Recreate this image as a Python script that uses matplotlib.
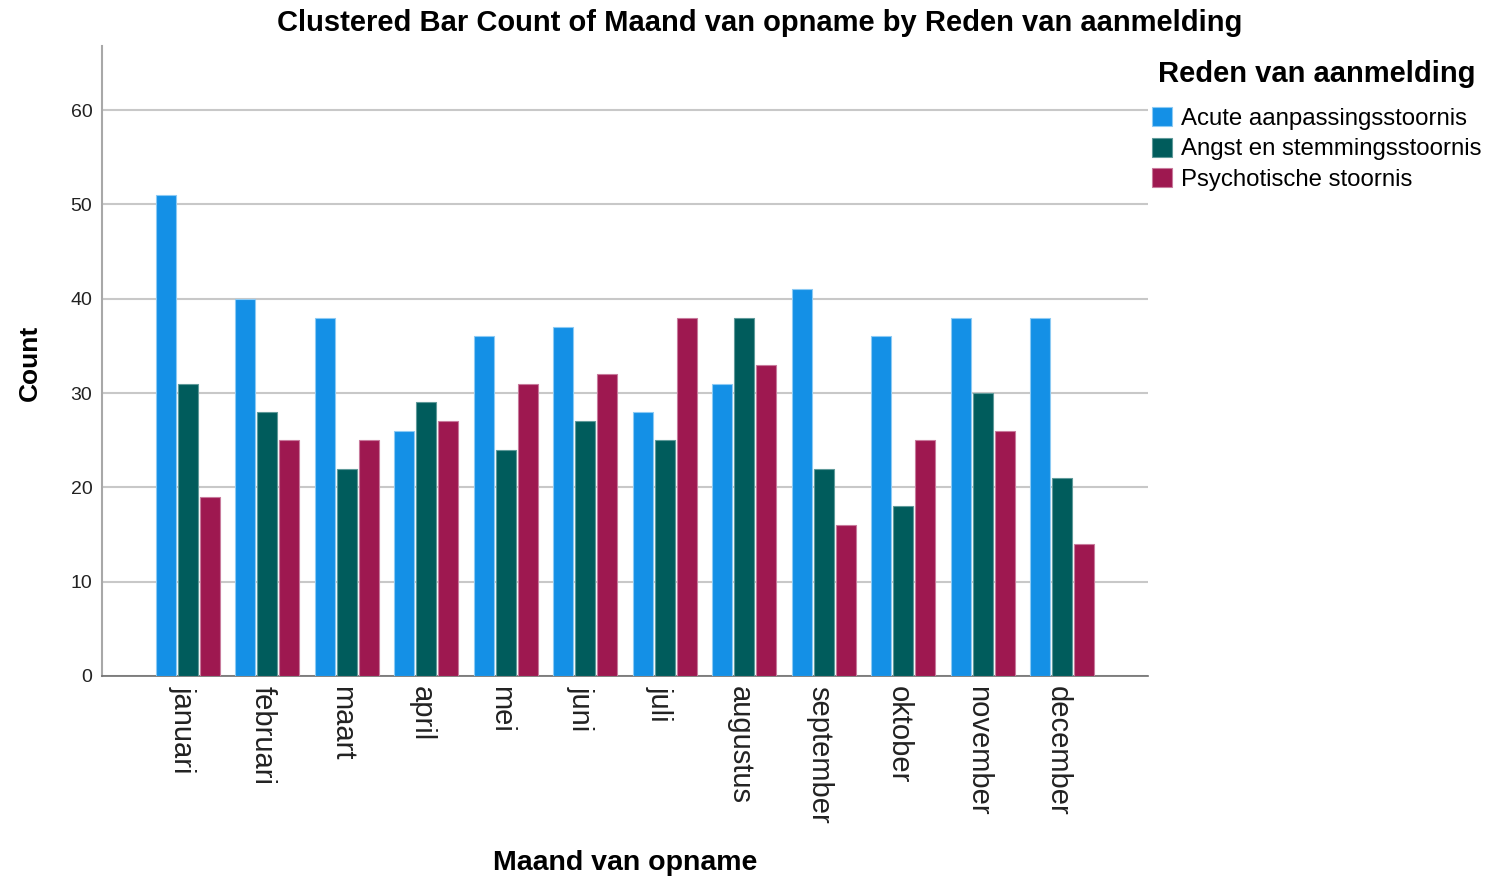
import numpy as np
import matplotlib.pyplot as plt

plt.rcParams['font.family'] = ['Liberation Sans', 'DejaVu Sans']

# data
months = ['januari', 'februari', 'maart', 'april', 'mei', 'juni', 'juli',
          'augustus', 'september', 'oktober', 'november', 'december']
series = ['Acute aanpassingsstoornis', 'Angst en stemmingsstoornis',
          'Psychotische stoornis']
acute = [51, 40, 38, 26, 36, 37, 28, 31, 41, 36, 38, 38]
angst = [31, 28, 22, 29, 24, 27, 25, 38, 22, 18, 30, 21]
psych = [19, 25, 25, 27, 31, 32, 38, 33, 16, 25, 26, 14]

colors = ['#1490e6', '#005c5c', '#9e1850']
edges = ['#8ccaf4', '#5f9a9a', '#c87a9c']

W, H = 1488, 881
fig = plt.figure(figsize=(W / 100, H / 100), dpi=100)
ax = fig.add_axes([102 / W, 1 - 676 / H, (1148 - 102) / W, (676 - 46) / H])

x = np.arange(len(months))
bw = 0.252
step = 0.277
bars = []
for k, vals in enumerate([acute, angst, psych]):
    b = ax.bar(x + (k - 1) * step, vals, width=bw, color=colors[k],
               edgecolor=edges[k], linewidth=0.8, label=series[k], zorder=3)
    bars.append(b)

ax.set_xlim(-1.08, len(months) - 1 + 1.08)
ax.set_ylim(0, 66.8)
ax.set_yticks([0, 10, 20, 30, 40, 50, 60])
ax.set_xticks(x - 0.06)
ax.set_xticklabels(months, rotation=-90, fontsize=21, color='#222222')
ax.tick_params(axis='x', length=0, pad=7)
ax.tick_params(axis='y', length=0, pad=7, labelsize=14, labelcolor='#222222')
for lab in ax.get_xticklabels():
    lab.set_verticalalignment('top')
    lab.set_horizontalalignment('center')

ax.yaxis.grid(True, color='#c8c8c8', linewidth=1.5, zorder=0)
ax.set_axisbelow(True)
for s in ['top', 'right']:
    ax.spines[s].set_visible(False)
ax.spines['left'].set_color('#a8a8a8')
ax.spines['left'].set_linewidth(1.5)
ax.spines['bottom'].set_color('#6e6e6e')
ax.spines['bottom'].set_linewidth(1.2)

fig.text(760 / W, 1 - 23 / H,
         'Clustered Bar Count of Maand van opname by Reden van aanmelding',
         ha='center', va='center', fontsize=21, fontweight='bold')
fig.text(30 / W, 1 - 363 / H, 'Count', rotation=90, ha='center', va='center',
         fontsize=19, fontweight='bold')
fig.text(625 / W, 1 - 863 / H, 'Maand van opname', ha='center', va='center',
         fontsize=20.5, fontweight='bold')

# legend title drawn separately to get the wider gap above the entries
fig.text(1317 / W, 1 - 74 / H, 'Reden van aanmelding', ha='center',
         va='center', fontsize=21, fontweight='bold')
leg = ax.legend(handles=bars, labels=series, loc='upper left',
                bbox_to_anchor=(1152 / W, 1 - 107 / H),
                bbox_transform=fig.transFigure, frameon=False,
                fontsize=17.3,
                handlelength=0.85, handleheight=0.85, handletextpad=0.35,
                labelspacing=0.32, borderpad=0, borderaxespad=0)

fig.savefig('out.png', dpi=100)
